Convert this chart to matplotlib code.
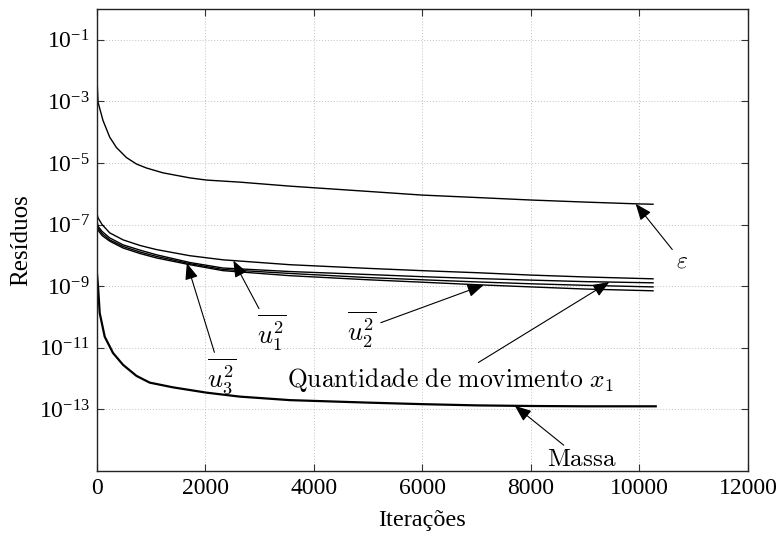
import numpy as np
import matplotlib
matplotlib.use("Agg")
import matplotlib.pyplot as plt

plt.rcParams['font.family'] = ['Liberation Serif', 'DejaVu Serif']
plt.rcParams['mathtext.fontset'] = 'custom'
plt.rcParams['mathtext.rm'] = 'Liberation Serif'
plt.rcParams['mathtext.it'] = 'Liberation Serif:italic'
plt.rcParams['mathtext.bf'] = 'Liberation Serif:bold'

# ---- data ----
eps_iter = [0, 24, 116, 240, 363, 547, 732, 916, 1223, 1714, 2022, 2636, 3558,
            5000, 6000, 7000, 8000, 9000, 10000, 10250]
eps_res = [9e-3, 9.5e-4, 2.4e-4, 6.9e-5, 3.2e-5, 1.51e-5, 9.3e-6, 6.9e-6, 4.8e-6,
           3.3e-6, 2.8e-6, 2.4e-6, 1.78e-6, 1.2e-6, 9.1e-7, 7.6e-7, 6.3e-7, 5.4e-7,
           4.7e-7, 4.6e-7]

u_iter = [0, 24, 100, 240, 486, 800, 1100, 1714, 2328, 3558, 5000, 6000, 7000,
          8000, 9000, 10250]
u1_res = [2.5e-7, 1.66e-7, 1.0e-7, 5.4e-8, 3.2e-8, 2.1e-8, 1.55e-8, 9.8e-9, 7.2e-9,
          5.0e-9, 3.8e-9, 3.2e-9, 2.75e-9, 2.3e-9, 2.0e-9, 1.74e-9]
qx1_res = [1.58e-7, 8.9e-8, 6.0e-8, 3.7e-8, 2.2e-8, 1.48e-8, 1.05e-8, 5.9e-9, 3.9e-9,
           3.0e-9, 2.4e-9, 2.04e-9, 1.78e-9, 1.58e-9, 1.41e-9, 1.29e-9]
u3_res = [1.26e-7, 7.8e-8, 5.1e-8, 3.2e-8, 1.95e-8, 1.29e-8, 9.3e-9, 5.4e-9, 3.5e-9,
          2.6e-9, 1.91e-9, 1.62e-9, 1.38e-9, 1.2e-9, 1.07e-9, 9.5e-10]
u2_res = [1.0e-7, 6.6e-8, 4.4e-8, 2.9e-8, 1.74e-8, 1.15e-8, 8.3e-9, 5.0e-9, 3.2e-9,
          2.2e-9, 1.62e-9, 1.35e-9, 1.12e-9, 9.5e-10, 8.1e-10, 7.1e-10]

m_iter = [0, 24, 55, 147, 300, 485, 731, 855, 977, 1406, 2022, 2636, 3558, 5000,
          6000, 7000, 8000, 9000, 10300]
m_res = [3.2e-9, 1e-9, 1.35e-10, 2.3e-11, 6.8e-12, 2.8e-12, 1.23e-12, 9.5e-13,
         7.4e-13, 5.2e-13, 3.5e-13, 2.6e-13, 2.0e-13, 1.66e-13, 1.48e-13, 1.35e-13,
         1.29e-13, 1.26e-13, 1.26e-13]

xticks = [0, 2000, 4000, 6000, 8000, 10000, 12000]
yticks = [1e-1, 1e-3, 1e-5, 1e-7, 1e-9, 1e-11, 1e-13]
ytick_labels = [r'$10^{-1}$', r'$10^{-3}$', r'$10^{-5}$', r'$10^{-7}$',
                r'$10^{-9}$', r'$10^{-11}$', r'$10^{-13}$']


def at(xs, ys, x):
    return 10 ** np.interp(x, xs, np.log10(ys))


fig = plt.figure(figsize=(7.8, 5.34), dpi=100)
ax = fig.add_axes([0.124, 0.118, 0.835, 0.865])

lc = 'black'
ax.plot(eps_iter, eps_res, color=lc, lw=1.0)
ax.plot(u_iter, u1_res, color=lc, lw=1.0)
ax.plot(u_iter, qx1_res, color=lc, lw=1.0)
ax.plot(u_iter, u3_res, color=lc, lw=1.0)
ax.plot(u_iter, u2_res, color=lc, lw=1.0)
ax.plot(m_iter, m_res, color=lc, lw=1.6)

ax.set_yscale('log')
ax.set_xlim(0, 12000)
ax.set_ylim(1e-15, 1e0)
ax.set_xticks(xticks)
ax.set_xticklabels([str(v) for v in xticks])
ax.set_yticks(yticks)
ax.set_yticklabels(ytick_labels)
ax.minorticks_off()
ax.tick_params(direction='in', top=True, right=True, length=5, width=0.8,
               labelsize=17, pad=5, color='#333333')
ax.grid(True, which='major', linestyle=(0, (1, 2)), color='#c0c0c0', lw=0.7)
for s in ax.spines.values():
    s.set_linewidth(1.0)
    s.set_color('#222222')

ax.set_xlabel('Iterações', fontsize=17.5, labelpad=8)
ax.set_ylabel('Resíduos', fontsize=18, labelpad=5)

arrow = dict(arrowstyle='-|>,head_length=0.5,head_width=0.2', color='black',
             lw=0.8, mutation_scale=20, shrinkA=1, shrinkB=0)


def ann(text, tip_x, tip_y, tx, ty, size=19):
    ax.annotate(text, xy=(tip_x, tip_y), xytext=(tx, ty), ha='center', va='center',
                fontsize=size, math_fontfamily='cm', arrowprops=arrow)


ann(r'$\varepsilon$', 9930, at(eps_iter, eps_res, 9930), 10783, 6.3e-9, size=17)
ann(r'$\overline{u_1^2}$', 2518, at(u_iter, u1_res, 2518), 3226, 3.1e-11)
ann(r'$\overline{u_2^2}$', 7130, at(u_iter, u2_res, 7130), 4885, 3.9e-11)
ann(r'$\overline{u_3^2}$', 1660, at(u_iter, u3_res, 1660), 2304, 1.2e-12)
ann(r'$\mathrm{Quantidade\ de\ movimento}\ x_1$', 9444, at(u_iter, qx1_res, 9444),
    6507, 9.0e-13, size=18.4)
ann(r'$\mathrm{Massa}$', 7704, at(m_iter, m_res, 7704), 8940, 2.3e-15, size=18)

fig.savefig('out.png', dpi=100)
